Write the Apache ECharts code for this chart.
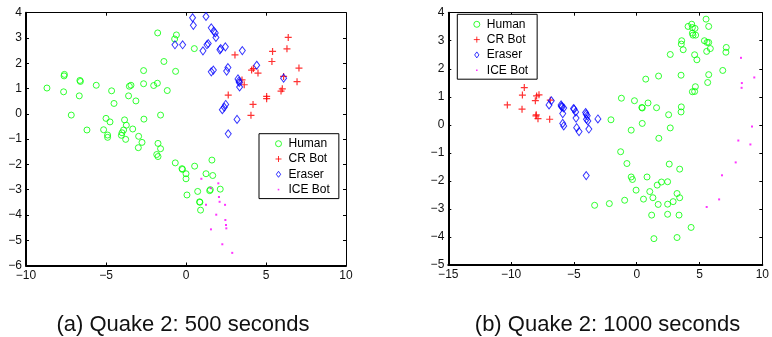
<!DOCTYPE html>
<html>
<head>
<meta charset="utf-8">
<script src="https://cdn.jsdelivr.net/npm/echarts@6/dist/echarts.min.js"></script>
<style>
  html, body { margin: 0; padding: 0; background: #fff; }
  #chart { width: 772px; height: 337px; }
</style>
</head>
<body>
<div id="chart"></div>
<script>
// (a) Quake 2: 500 seconds
const humanA = [
  [-8.69, 1.02], [-7.6, 1.56], [-7.62, 1.5], [-7.65, 0.87], [-6.63, 1.32], [-6.6, 1.28],
  [-6.67, 0.71], [-5.61, 1.13], [-7.17, -0.05], [-6.19, -0.64], [-4.65, 0.91], [-4.5, 0.41],
  [-5.0, -0.18], [-4.75, -0.32], [-5.15, -0.63], [-4.9, -0.84], [-4.9, -0.93], [-3.54, 1.09],
  [-3.44, 1.13], [-3.59, 0.71], [-3.13, 0.51], [-3.84, -0.24], [-3.73, -0.45], [-3.9, -0.64],
  [-4.0, -0.75], [-4.04, -0.85], [-3.77, -1.01], [-3.33, -0.6], [-2.96, -0.89], [-2.75, -1.13],
  [-2.98, -1.34], [-2.65, 1.71], [-2.65, 1.19], [-2.63, -0.21], [-2.02, 1.12], [-1.79, 1.21],
  [-1.17, 0.92], [-1.59, -0.05], [-1.77, 3.2], [-1.38, 2.07], [-0.65, 1.68], [-0.71, 2.96],
  [-0.6, 3.12], [0.52, 2.58], [-1.75, -1.17], [-1.59, -1.38], [-1.83, -1.61], [-1.75, -1.69],
  [-0.67, -1.94], [-0.25, -2.17], [-0.22, -2.2], [0.0, -2.37], [0.0, -2.57], [0.54, -2.07],
  [0.06, -3.21], [0.73, -3.07], [1.62, -1.83], [1.25, -2.37], [1.67, -2.44], [1.48, -3.04],
  [1.52, -3.0], [2.14, -2.98], [0.85, -3.48], [0.87, -3.5], [0.91, -3.81]
];
const crBotA = [
  [6.39, 3.02], [5.41, 2.47], [6.31, 2.57], [3.06, 2.33], [5.37, 2.07], [7.06, 1.81],
  [4.1, 1.73], [4.21, 1.79], [4.5, 1.61], [3.5, 1.34], [3.64, 1.15], [6.1, 1.48],
  [6.94, 1.27], [2.64, 0.74], [6.02, 0.99], [5.94, 0.9], [5.04, 0.69], [5.04, 0.6],
  [4.19, 0.37], [4.06, -0.06]
];
const eraserA = [
  [0.41, 3.8], [0.46, 3.5], [-0.69, 2.73], [-0.21, 2.73], [1.25, 3.85], [1.58, 3.4],
  [1.73, 3.27], [1.83, 3.2], [1.87, 3.02], [1.39, 2.78], [1.31, 2.73], [1.06, 2.49],
  [2.17, 2.58], [2.12, 2.53], [2.46, 2.65], [3.52, 2.5], [1.58, 1.66], [1.71, 1.73],
  [2.54, 1.69], [2.62, 1.83], [4.42, 1.92], [3.25, 1.38], [3.33, 1.24], [3.35, 1.06],
  [3.31, 1.3], [6.1, 1.41], [2.48, 0.37], [2.39, 0.26], [2.27, 0.16], [3.19, -0.22],
  [2.64, -0.79]
];
const iceBotA = [
  [0.96, -2.57], [1.54, -2.94], [2.02, -2.75], [2.06, -3.29], [2.1, -3.48], [1.25, -3.6],
  [2.44, -3.6], [1.89, -3.99], [2.46, -4.2], [2.5, -4.4], [2.52, -4.53], [1.56, -4.57],
  [2.27, -5.16], [2.89, -5.5]
];

// (b) Quake 2: 1000 seconds
const humanB = [
  [-2.05, 0.18], [-1.22, 0.95], [-0.44, -0.19], [-0.18, 0.86], [0.41, 0.62], [0.44, 0.6],
  [0.44, 0.05], [0.72, 1.63], [0.9, 0.78], [1.58, 0.61], [1.74, 1.74], [1.76, -0.48],
  [2.54, 0.36], [2.67, -0.11], [2.67, 2.51], [3.53, 1.77], [3.55, 0.64], [3.53, 0.46],
  [3.58, 3.0], [3.55, 2.88], [3.7, 2.68], [4.09, 3.51], [4.38, 3.59], [4.43, 3.47],
  [4.64, 3.44], [4.43, 3.27], [4.48, 3.2], [4.69, 3.2], [4.61, 2.5], [4.79, 2.32],
  [4.67, 1.36], [4.43, 1.18], [4.61, 1.19], [5.52, 3.77], [5.73, 3.51], [5.39, 3.0],
  [5.6, 2.94], [5.73, 2.94], [5.86, 2.72], [5.57, 2.62], [5.65, 1.51], [5.73, 1.79],
  [6.85, 1.94], [7.13, 2.76], [7.1, 2.59],
  [-1.28, -0.96], [-0.78, -1.38], [-0.44, -1.86], [-0.34, -1.95], [0.82, -1.86], [-0.05, -2.33],
  [1.04, -2.38], [1.29, -2.6], [0.54, -2.65], [1.63, -2.15], [1.97, -2.04], [2.46, -2.03],
  [1.71, -2.84], [2.46, -2.83], [2.9, -2.74], [3.21, -2.45], [3.42, -2.6], [3.42, -1.58],
  [2.59, -1.4], [-0.96, -2.69], [-2.18, -2.81], [-3.35, -2.87], [1.19, -3.22], [2.46, -3.19],
  [3.37, -3.22], [4.33, -3.66], [1.37, -4.06], [3.21, -4.02]
];
const crBotB = [
  [-10.3, 0.71], [-9.13, 0.56], [-9.1, 1.06], [-8.95, 1.33], [-8.07, 0.86], [-7.97, 1.03],
  [-7.78, 1.07], [-8.02, 0.32], [-7.86, 0.22], [-8.0, 0.36], [-6.93, 0.2], [-6.88, 0.88]
];
const eraserB = [
  [-6.98, 0.71], [-6.8, 0.86], [-6.02, 0.71], [-5.94, 0.64], [-5.81, 0.6], [-5.89, 0.4],
  [-5.89, 0.05], [-5.81, -0.04], [-4.98, 0.56], [-4.86, 0.46], [-4.83, 0.24], [-4.78, -0.1],
  [-4.59, -0.24], [-4.02, 0.38], [-4.0, 0.2], [-4.07, 0.44], [-3.94, 0.32], [-3.89, 0.14],
  [-3.81, -0.15], [-3.09, 0.21], [-4.02, -1.81], [-5.03, 0.58], [-6.0, 0.66]
];
const iceBotB = [
  [8.3, 2.39], [9.36, 1.69], [8.37, 1.49], [8.35, 1.32], [9.18, -0.06], [8.09, -0.56],
  [9.05, -0.7], [7.88, -1.34], [6.79, -1.8], [6.56, -2.66], [5.57, -2.93]
];

const names = ["Human", "CR Bot", "Eraser", "ICE Bot"];
const captions = ["(a) Quake 2: 500 seconds", "(b) Quake 2: 1000 seconds"];
const rangeA = { xMin: -10, xMax: 10, xStep: 5, yMin: -6, yMax: 4, yStep: 1 };
const rangeB = { xMin: -15, xMax: 10, xStep: 5, yMin: -5, yMax: 4, yStep: 1 };

const FONT = "Liberation Sans";
const minus = (v) => String(v).replace("-", "\u2212");
const NONE = "rgba(0,0,0,0)";

// marker shapes
const PLUS = "path://M5,0L5,10M0,5L10,5";
const DIAMOND_ICON = "path://M2.5,0L5,3.5L2.5,7L0,3.5Z";
const DOT_ICON = "path://M0,0M6,6M2.2,2.2L3.8,2.2L3.8,3.8L2.2,3.8Z";

function axes(gridIndex, r) {
  const label = { show: true, color: "#111", fontSize: 12, fontFamily: FONT, margin: 4, formatter: minus };
  const tick = { show: true, inside: true, length: 3, lineStyle: { color: "#000", width: 1 } };
  const x = (pos, main) => ({
    type: "value", gridIndex, position: pos, min: r.xMin, max: r.xMax, interval: r.xStep,
    axisLine: { show: true, onZero: false, lineStyle: { color: "#000", width: main ? 2 : 1 } },
    axisTick: tick, axisLabel: main ? label : { show: false }, splitLine: { show: false }
  });
  const y = (pos, main) => ({
    type: "value", gridIndex, position: pos, min: r.yMin, max: r.yMax, interval: r.yStep,
    axisLine: { show: true, onZero: false, lineStyle: { color: "#000", width: main ? 2 : 1 } },
    axisTick: tick, axisLabel: main ? label : { show: false }, splitLine: { show: false }
  });
  return { x: [x("bottom", true), x("top", false)], y: [y("left", true), y("right", false)] };
}

const aAxes = axes(0, rangeA);
const bAxes = axes(1, rangeB);

function seriesFor(data, axisBase) {
  const [human, cr, eraser, ice] = data;
  const xi = axisBase, yi = axisBase;
  return [
    { name: names[0], type: "scatter", xAxisIndex: xi, yAxisIndex: yi, data: human,
      symbol: "circle", symbolSize: 6,
      itemStyle: { color: NONE, borderColor: "#00ff00", borderWidth: 1 } },
    { name: names[1], type: "scatter", xAxisIndex: xi, yAxisIndex: yi, data: cr,
      symbol: PLUS, symbolSize: 7,
      itemStyle: { color: NONE, borderColor: "#ff0000", borderWidth: 1.2 } },
    { name: names[2], type: "scatter", xAxisIndex: xi, yAxisIndex: yi, data: eraser,
      symbol: "diamond", symbolSize: [6, 8],
      itemStyle: { color: NONE, borderColor: "#0000ff", borderWidth: 1 } },
    { name: names[3], type: "scatter", xAxisIndex: xi, yAxisIndex: yi, data: ice,
      symbol: "rect", symbolSize: 2,
      itemStyle: { color: "#ff00ff" } }
  ];
}

function legendAt(left, top) {
  return {
    data: [
      { name: names[0], icon: "circle", itemStyle: { color: NONE, borderColor: "#00ff00", borderWidth: 1 } },
      { name: names[1], icon: PLUS, itemStyle: { color: NONE, borderColor: "#ff0000", borderWidth: 1 } },
      { name: names[2], icon: DIAMOND_ICON, itemStyle: { color: NONE, borderColor: "#0000ff", borderWidth: 1 } },
      { name: names[3], icon: DOT_ICON, itemStyle: { color: "#ff00ff", borderWidth: 0 } }
    ],
    orient: "vertical", left, top,
    itemWidth: 10, itemHeight: 6, itemGap: 3.3,
    padding: [4, 9, 3, 16],
    backgroundColor: "#fff", borderColor: "#000", borderWidth: 1, borderRadius: 0,
    selectedMode: false,
    textStyle: { fontFamily: FONT, fontSize: 12, color: "#000", lineHeight: 12 }
  };
}

const chart = echarts.init(document.getElementById("chart"), null, { renderer: "canvas" });
chart.setOption({
  animation: false,
  backgroundColor: "#fff",
  grid: [
    { left: 26, top: 12.7, width: 320, height: 252.8 },
    { left: 448.3, top: 12.7, width: 321, height: 252.3 }
  ],
  // bottom/left axes: 0 for (a), 1 for (b); top/right frame axes: 2 and 3
  xAxis: [aAxes.x[0], bAxes.x[0], aAxes.x[1], bAxes.x[1]],
  yAxis: [aAxes.y[0], bAxes.y[0], aAxes.y[1], bAxes.y[1]],
  legend: [legendAt(259, 133.7), legendAt(457.3, 14.3)],
  title: [
    { text: captions[0], left: 178, top: 308.5, textAlign: "center",
      textStyle: { fontFamily: FONT, fontSize: 22, fontWeight: "normal", color: "#111" } },
    { text: captions[1], left: 602.5, top: 308.5, textAlign: "center",
      textStyle: { fontFamily: FONT, fontSize: 22, fontWeight: "normal", color: "#111" } }
  ],
  series: [
    ...seriesFor([humanA, crBotA, eraserA, iceBotA], 0),
    ...seriesFor([humanB, crBotB, eraserB, iceBotB], 1)
  ]
});
</script>
</body>
</html>
